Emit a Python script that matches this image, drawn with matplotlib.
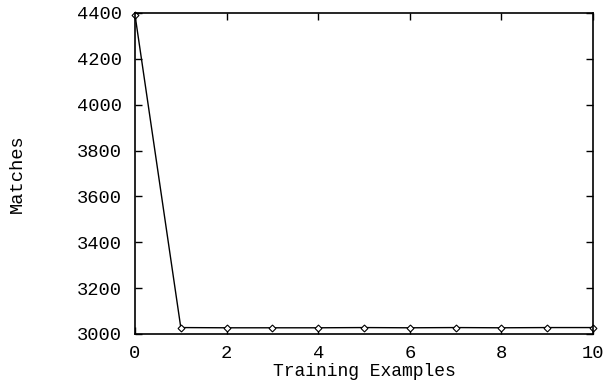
import matplotlib
matplotlib.use("Agg")
import matplotlib.pyplot as plt

# Matches per number of training examples
examples = [0, 1, 2, 3, 4, 5, 6, 7, 8, 9, 10]
matches = [4392, 3028, 3027, 3027, 3027, 3028, 3027, 3028, 3027, 3028, 3028]

x_ticks = [0, 2, 4, 6, 8, 10]
y_ticks = [3000, 3200, 3400, 3600, 3800, 4000, 4200, 4400]

plt.rcParams['font.family'] = ['Liberation Mono', 'DejaVu Sans Mono']

fig = plt.figure(figsize=(6.04, 3.81), dpi=100)
ax = fig.add_axes([0.2235, 0.1234, 0.7583, 0.8425])

ax.plot(examples, matches, color='black', linewidth=1.0,
        marker='D', markersize=3.5, markerfacecolor='white',
        markeredgecolor='black', markeredgewidth=0.8, clip_on=False)

ax.set_xlim(0, 10)
ax.set_ylim(3000, 4400)
ax.set_xticks(x_ticks)
ax.set_yticks(y_ticks)
ax.tick_params(direction='in', top=True, right=True, length=5, width=1,
               labelsize=13.5)
ax.tick_params(axis='x', pad=8)
ax.tick_params(axis='y', pad=9.5)
for s in ax.spines.values():
    s.set_linewidth(1.2)

ax.set_xlabel('Training Examples', fontsize=13, labelpad=0.5)
ax.set_ylabel('Matches', fontsize=13.5, labelpad=37)

fig.savefig('out.png', dpi=100)
